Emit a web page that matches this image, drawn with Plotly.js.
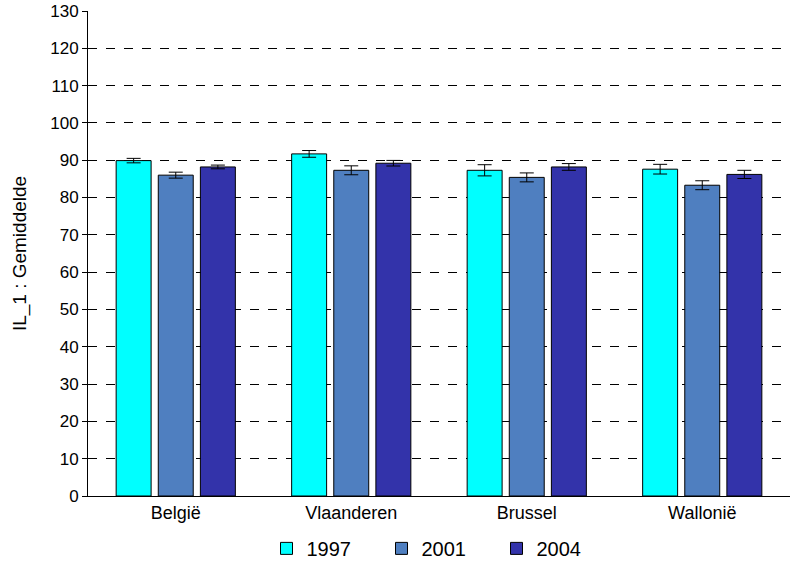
<!DOCTYPE html>
<html>
<head>
<meta charset="utf-8">
<script src="https://cdn.plot.ly/plotly-3.0.1.min.js"></script>
<style>body{margin:0;background:#fff}#plot{width:798px;height:571px}</style>
</head>
<body>
<div id="plot"></div>
<script>
const regions = ["België", "Vlaanderen", "Brussel", "Wallonië"];
const years = ["1997", "2001", "2004"];
const colors = ["#00ffff", "#4f7fc0", "#3333aa"];
const val1997 = [89.9, 91.7, 87.3, 87.6];
const val2001 = [86.0, 87.3, 85.4, 83.3];
const val2004 = [88.2, 89.2, 88.2, 86.2];
const err1997 = [0.6, 0.9, 1.5, 1.3];
const err2001 = [0.8, 1.2, 1.2, 1.2];
const err2004 = [0.5, 0.75, 0.9, 1.1];
const yTicks = [0, 10, 20, 30, 40, 50, 60, 70, 80, 90, 100, 110, 120, 130];

const values = [val1997, val2001, val2004];
const errors = [err1997, err2001, err2004];

const data = years.map((y, i) => ({
	type: "bar",
	name: y,
	x: regions,
	y: values[i],
	marker: { color: colors[i], line: { color: "#000", width: 1 } },
	error_y: { type: "data", array: errors[i], visible: true, color: "#000", thickness: 1, width: 7 }
}));

const layout = {
	width: 798, height: 571,
	margin: { l: 88, r: 8, t: 11, b: 75, autoexpand: false },
	paper_bgcolor: "#fff", plot_bgcolor: "#fff",
	font: { family: "Liberation Sans, Arial, sans-serif", color: "#000", size: 17 },
	barmode: "group",
	bargap: 0.28,
	bargroupgap: 0.17,
	showlegend: true,
	legend: {
		orientation: "h", x: 0.5, xanchor: "center", y: -0.108, yanchor: "middle",
		font: { size: 20 }, entrywidth: 70, itemwidth: 30
	},
	xaxis: {
		showline: true, linecolor: "#000", linewidth: 1,
		ticks: "", tickfont: { size: 18 }, showgrid: false
	},
	yaxis: {
		title: { text: "IL_1 : Gemiddelde", font: { size: 19 }, standoff: 18 },
		range: [0, 130], tickvals: yTicks,
		showline: true, linecolor: "#000", linewidth: 1,
		ticks: "outside", ticklen: 5, tickcolor: "#000",
		showgrid: true, gridcolor: "#000", griddash: "dash", gridwidth: 1,
		zeroline: false, tickfont: { size: 17 }
	}
};

Plotly.newPlot("plot", data, layout, { displayModeBar: false });
</script>
</body>
</html>
